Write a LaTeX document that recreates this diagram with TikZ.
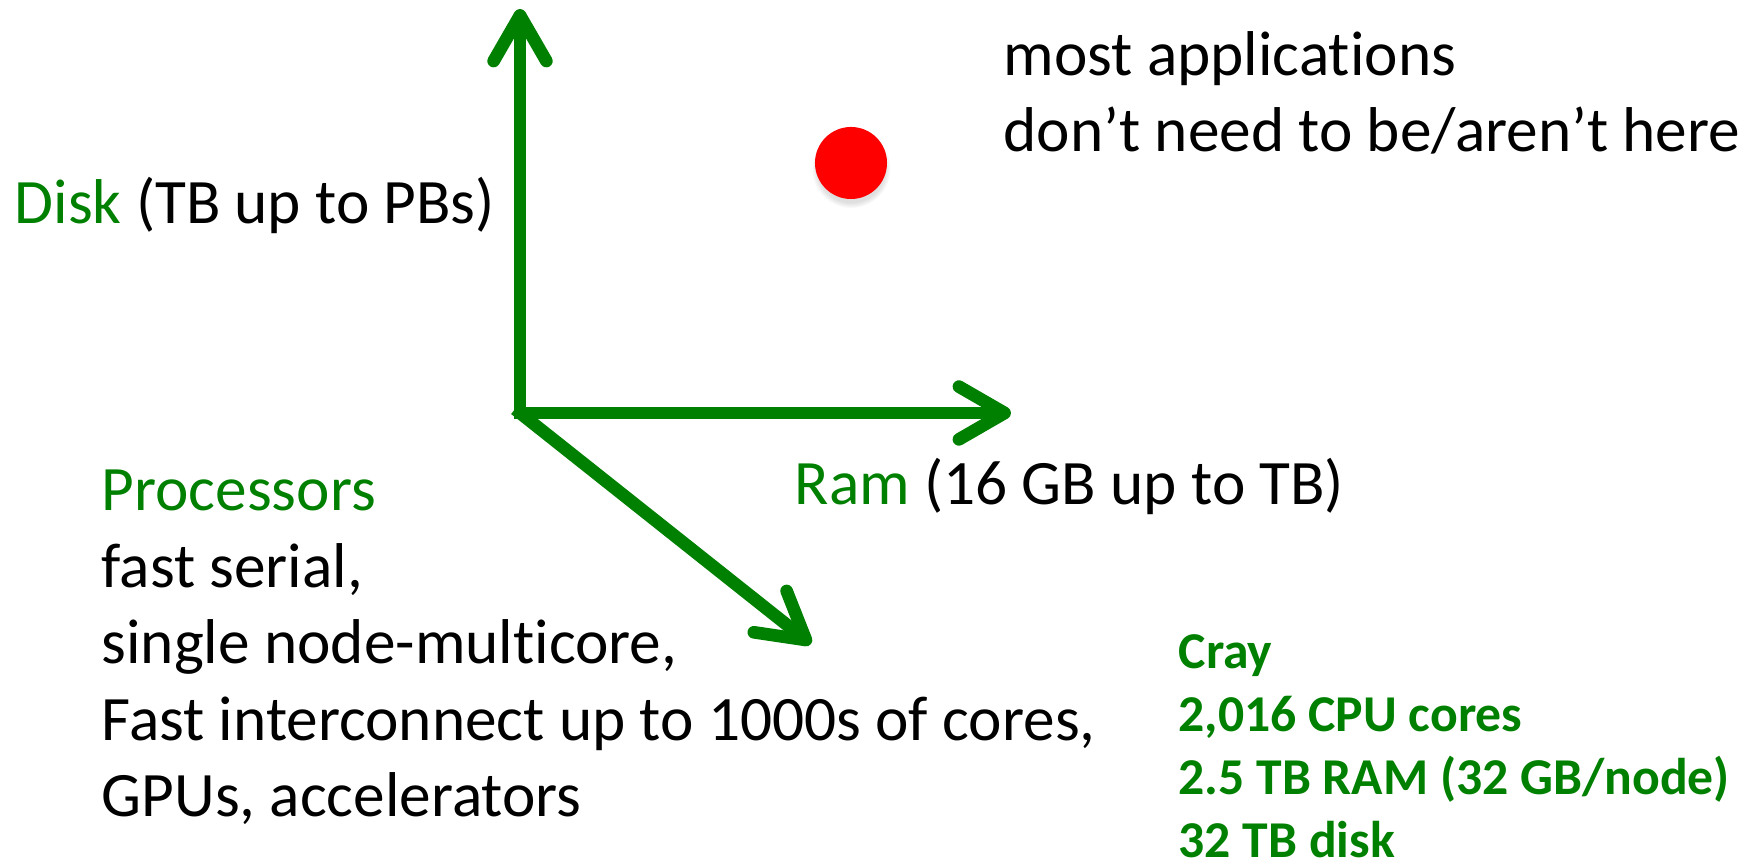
\documentclass[tikz,border=0pt]{standalone}
\usepackage{fontspec}
\setmainfont{Carlito}[Ligatures=NoCommon]
\usetikzlibrary{arrows.meta,positioning,shadows}
\definecolor{pptgreen}{HTML}{008000}
\tikzstyle{axis}=[draw=pptgreen, line width=3.6pt, line cap=rect, -{Straight Barb[length=13pt,width=15pt,round]}]
\tikzstyle{lbl}=[inner sep=0pt, anchor=base west, font=\fontsize{18pt}{22pt}\selectfont]
\tikzstyle{spec}=[inner sep=0pt, anchor=base west, text=pptgreen, font=\fontsize{14.7pt}{18pt}\selectfont\bfseries]
\tikzstyle{dot}=[circle, fill=red, inner sep=0pt, minimum size=0.72cm, circular drop shadow={shadow xshift=0pt, shadow yshift=-0.05cm, opacity=.25}]

\begin{document}
\begin{tikzpicture}
[x=0.01cm, y=-0.01cm]
\useasboundingbox (0,0) rectangle (1762,865);
\coordinate (o) at (520,413);
\coordinate (up) at (520,9);
\coordinate (rt) at (1011,413);
\coordinate (dg) at (811,644);
\draw[axis] (o) -- (up);
\draw[axis] (o) -- (rt);
\draw[axis] (o) -- (dg);
\node[dot] (pt) at (851,163) {};
\node[lbl] (apps) at (1003,76) {most applications};
\node[lbl] (apps2) at (1003,152) {don’t need to be/aren’t here};
\node[lbl] (disk) at (14,224) {\textcolor{pptgreen}{Disk} (TB up to PBs)};
\node[lbl] (ram) at (794,505) {\textcolor{pptgreen}{Ram} (16 GB up to TB)};
\node[lbl, text=pptgreen] (proc) at (101,511) {Processors};
\foreach \t [count=\i] in {{fast serial,},{single node-multicore,},{Fast interconnect up to 1000s of cores,},{GPUs, accelerators}}
   \node[lbl] (p\i) at (101,{511+76.5*\i}) {\t};
\foreach \t [count=\i from 0] in {Cray,{2,016 CPU cores},{2.5 TB RAM (32 GB/node)},{32 TB disk}}
   \node[spec] (c\i) at (1178,{669+63*\i}) {\t};
\end{tikzpicture}
\end{document}
